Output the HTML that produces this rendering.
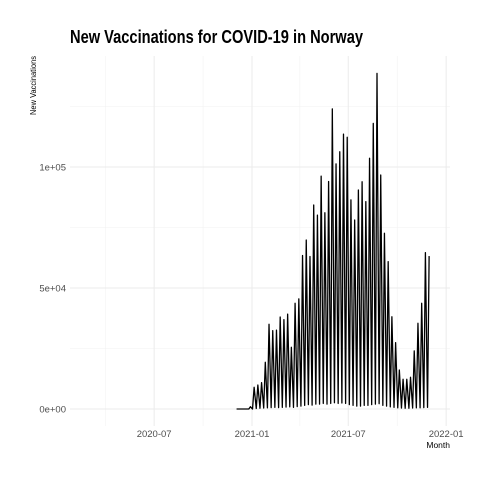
<!DOCTYPE html>
<html><head><meta charset="utf-8"><style>
body{margin:0;background:#fff}
svg{display:block;font-family:"Liberation Sans",sans-serif}
</style></head><body>
<svg id="chart" width="480" height="480" xmlns="http://www.w3.org/2000/svg">
<rect width="480" height="480" fill="#fff"/>
<g id="grid"></g>
<g id="axes"></g>
<path id="series" fill="none" stroke="#000" stroke-width="1.3" stroke-linejoin="round"/>
<text x="70" y="43" font-size="18" font-weight="bold" textLength="293" lengthAdjust="spacingAndGlyphs">New Vaccinations for COVID-19 in Norway</text>
<text transform="translate(36,56) rotate(-90)" text-anchor="end" font-size="8.5" textLength="59" lengthAdjust="spacingAndGlyphs">New Vaccinations</text>
<text x="450" y="448" text-anchor="end" font-size="8.5">Month</text>
</svg>
<script>
const weekDates=["2020-12-29","2021-01-05","2021-01-12","2021-01-19","2021-01-26","2021-02-02","2021-02-09","2021-02-16","2021-02-23","2021-03-02","2021-03-09","2021-03-16","2021-03-23","2021-03-30","2021-04-06","2021-04-13","2021-04-20","2021-04-27","2021-05-04","2021-05-11","2021-05-18","2021-05-25","2021-06-01","2021-06-08","2021-06-15","2021-06-22","2021-06-29","2021-07-06","2021-07-13","2021-07-20","2021-07-27","2021-08-03","2021-08-10","2021-08-17","2021-08-24","2021-08-31","2021-09-07","2021-09-14","2021-09-21","2021-09-28","2021-10-05","2021-10-12","2021-10-19","2021-10-26","2021-11-02","2021-11-09","2021-11-16","2021-11-23","2021-11-30"];
const peakValues=[950,9000,9900,10900,19300,35000,32400,32600,38000,36900,39200,25500,43700,45500,63400,69800,63000,84300,80100,96200,81100,94000,124000,101300,106300,113600,112300,86400,78100,90500,93900,85700,103600,118000,138700,96700,72600,60900,38100,27400,16100,12300,12300,13100,24000,35400,43700,64600,63200];
const troughValues=[0,200,300,400,500,600,700,600,700,800,900,700,1000,1200,1500,1800,1600,2000,2000,2300,2000,2300,2600,2300,2500,2300,1800,1500,1200,1200,1500,1500,1800,2000,2200,1500,1200,900,700,500,400,300,300,400,500,500,600,700,null];
const leadDates=["2020-12-03","2020-12-26"];
const leadValues=[0,0];
const yTicks=[0,50000,100000];
const yTickLabels=["0e+00","5e+04","1e+05"];
const yMinor=[25000,75000,125000];
const xTicks=["2020-07-01","2021-01-01","2021-07-01","2022-01-01"];
const xTickLabels=["2020-07","2021-01","2021-07","2022-01"];
const xMinor=["2020-04-01","2020-10-01","2021-04-01","2021-10-01"];

const NS="http://www.w3.org/2000/svg";
const ref=Date.parse("2021-01-01");
const dayOf=d=>(Date.parse(d)-ref)/86400000;
const xs=d=>252+dayOf(d)*0.5319;
const ys=v=>409-v*121/50000;
const L=70,R=450,T=56,B=426;
const grid=document.getElementById('grid'),axes=document.getElementById('axes');
function line(x1,y1,x2,y2,c,w,name){const e=document.createElementNS(NS,'line');
e.setAttribute('x1',x1);e.setAttribute('y1',y1);e.setAttribute('x2',x2);e.setAttribute('y2',y2);
e.setAttribute('stroke',c);e.setAttribute('stroke-width',w);


grid.appendChild(e);}
yMinor.forEach(v=>line(L,ys(v),R,ys(v),'#f2f2f2',0.6,'y-minor-gridline'));
xMinor.forEach(d=>line(xs(d),T,xs(d),B,'#f2f2f2',0.6,'x-minor-gridline'));
yTicks.forEach(v=>line(L,ys(v),R,ys(v),'#ebebeb',1,'y-major-gridline'));
xTicks.forEach(d=>line(xs(d),T,xs(d),B,'#ebebeb',1,'x-major-gridline'));
function txt(x,y,s,anchor,name){const e=document.createElementNS(NS,'text');
e.setAttribute('x',x);e.setAttribute('y',y);e.setAttribute('text-anchor',anchor);
e.setAttribute('font-size','9.5');e.setAttribute('fill','#4d4d4d');e.textContent=s;


axes.appendChild(e);}
yTicks.forEach((v,i)=>txt(66,ys(v)+3.5,yTickLabels[i],'end','y-tick-label'));
xTicks.forEach((d,i)=>txt(xs(d),437,xTickLabels[i],'middle','x-tick-label'));
const pts=[];
leadDates.forEach((d,i)=>pts.push([xs(d),ys(leadValues[i])]));
weekDates.forEach((d,i)=>{
  pts.push([xs(d),ys(peakValues[i])]);
  if(troughValues[i]!==null){const t=new Date(Date.parse(d)+4*86400000).toISOString().slice(0,10);pts.push([xs(t),ys(troughValues[i])]);}
});
document.getElementById('series').setAttribute('d',pts.map((p,i)=>(i?'L':'M')+p[0].toFixed(2)+' '+p[1].toFixed(2)).join(''));
</script>
</body></html>
